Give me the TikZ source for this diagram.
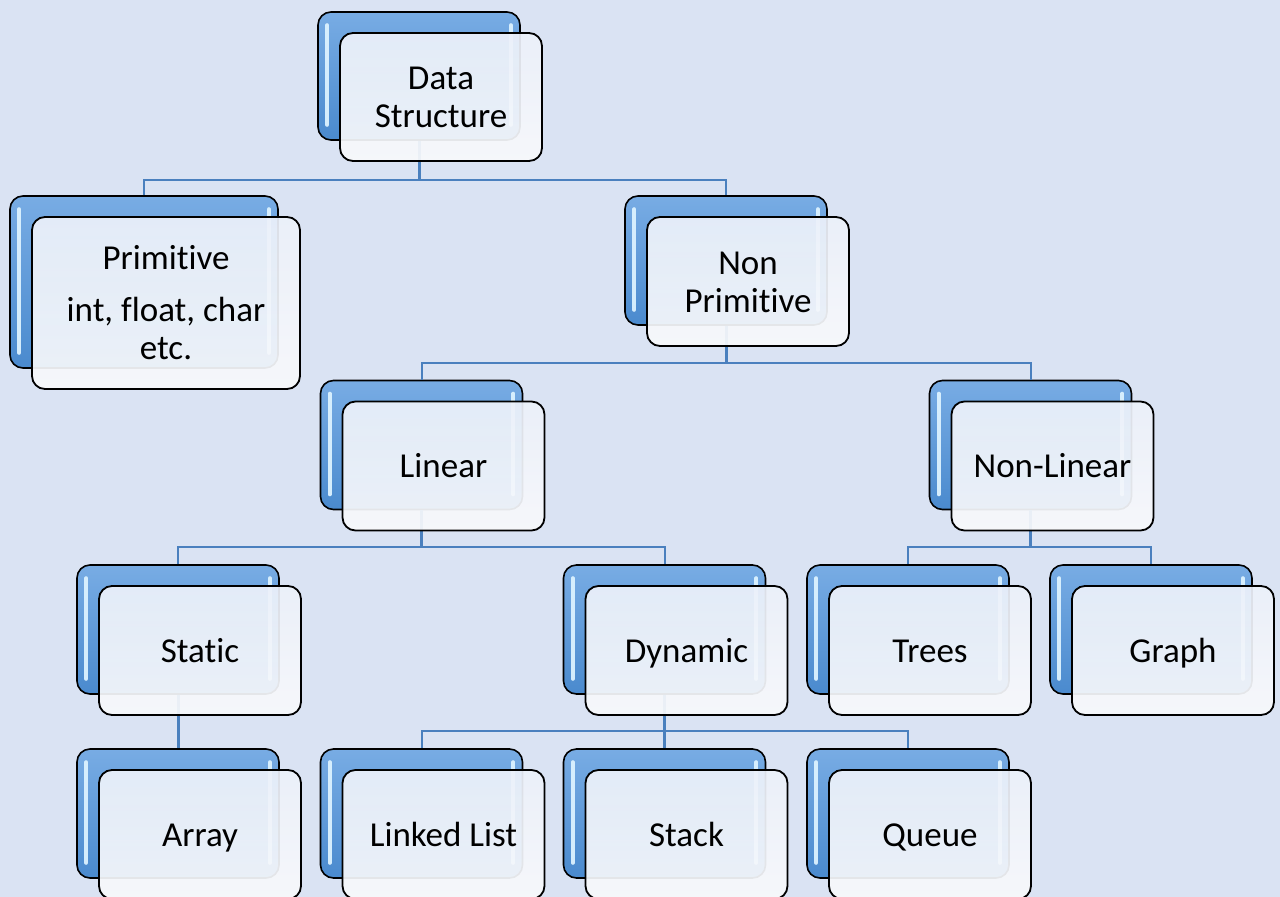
\documentclass[tikz,border=0pt]{standalone}
\usepackage{fontspec}
\setmainfont[RawFeature={-liga}]{Carlito}
\definecolor{bg}{RGB}{218,227,243}
\definecolor{blueA}{RGB}{120,172,228}
\definecolor{blueB}{RGB}{74,138,206}
\definecolor{linkc}{RGB}{74,128,190}
\definecolor{frontA}{RGB}{236,241,250}
\definecolor{frontB}{RGB}{248,249,251}
\definecolor{hlc}{RGB}{220,242,255}
\newcommand\sst{\rule[-7.4pt]{0pt}{38pt}}
\tikzset{
  backbox/.style={draw=black, line width=1.6pt, rounded corners=13pt,
    top color=blueA, bottom color=blueB, inner sep=0pt},
  frontbox/.style={draw=black, line width=1.8pt, rounded corners=13pt,
    top color=frontA, bottom color=frontB, fill opacity=0.93, text opacity=1, align=center, inner sep=0pt,
    font=\fontsize{35}{38}\selectfont},
  hl/.style={draw=hlc, line width=4pt, line cap=round, opacity=0.95},
  stem/.style={draw=linkc, line width=3pt},
  bar/.style={draw=linkc, line width=2pt},
}
\newcommand\dsback[5]{%
  \node[backbox, minimum width=#4pt, minimum height=#5pt] (#1b) at (#2,#3) {};
  \draw[hl] ([xshift=10pt,yshift=-14pt]#1b.north west) -- ([xshift=10pt,yshift=16pt]#1b.south west);
  \draw[hl] ([xshift=-10pt,yshift=-14pt]#1b.north east) -- ([xshift=-10pt,yshift=16pt]#1b.south east);
}
\newcommand\dsfront[4]{%
  \node[frontbox, minimum width=#2pt, minimum height=#3pt] (#1) at ([xshift=22pt,yshift=-21pt]#1b.center) {#4};
}
\begin{document}
\begin{tikzpicture}[x=1pt,y=-1pt]
\fill[bg] (0,0) rectangle (1280,897);
\useasboundingbox (0,0) rectangle (1280,897);
% back boxes
\dsback{ds}{419}{76}{202}{128}
\dsback{prim}{144}{282}{268}{172}
\dsback{np}{726}{260.5}{202}{129}
\dsback{lin}{421.5}{445}{202}{129}
\dsback{nl}{1030.5}{445}{202}{129}
\dsback{stat}{178}{629.5}{202}{129}
\dsback{dyn}{664.5}{629.5}{202}{129}
\dsback{trees}{908}{629.5}{202}{129}
\dsback{graph}{1151}{629.5}{202}{129}
\dsback{array}{178}{813.5}{202}{129}
\dsback{ll}{421.5}{813.5}{202}{129}
\dsback{stack}{664.5}{813.5}{202}{129}
\dsback{queue}{908}{813.5}{202}{129}
% connectors
\coordinate (h1) at (0,180);
\coordinate (h2) at (0,363);
\coordinate (h3) at (0,547);
\coordinate (h5) at (0,731);
\draw[stem] (dsb.south) -- (dsb.south |- h1);
\draw[bar] (primb.north) -- (primb.north |- h1) -- (npb.north |- h1) -- (npb.north);
\draw[stem] (npb.south) -- (npb.south |- h2);
\draw[bar] (linb.north) -- (linb.north |- h2) -- (nlb.north |- h2) -- (nlb.north);
\draw[stem] (linb.south) -- (linb.south |- h3);
\draw[bar] (statb.north) -- (statb.north |- h3) -- (dynb.north |- h3) -- (dynb.north);
\draw[stem] (nlb.south) -- (nlb.south |- h3);
\draw[bar] (treesb.north) -- (treesb.north |- h3) -- (graphb.north |- h3) -- (graphb.north);
\draw[stem] (statb.south) -- (arrayb.north);
\draw[stem] (dynb.south) -- (stackb.north);
\draw[bar] (llb.north) -- (llb.north |- h5) -- (queueb.north |- h5) -- (queueb.north);
% front boxes
\dsfront{ds}{202}{128}{Data\sst\\Structure\sst}
\dsfront{prim}{268}{172}{Primitive\sst\\[14pt]int, float, char\sst\\etc.\sst}
\dsfront{np}{202}{129}{Non\sst\\Primitive\sst}
\dsfront{lin}{202}{129}{Linear\sst}
\dsfront{nl}{202}{129}{Non-Linear\sst}
\dsfront{stat}{202}{129}{Static\sst}
\dsfront{dyn}{202}{129}{Dynamic\sst}
\dsfront{trees}{202}{129}{Trees\sst}
\dsfront{graph}{202}{129}{Graph\sst}
\dsfront{array}{202}{129}{Array\sst}
\dsfront{ll}{202}{129}{Linked List\sst}
\dsfront{stack}{202}{129}{Stack\sst}
\dsfront{queue}{202}{129}{Queue\sst}
\end{tikzpicture}
\end{document}
